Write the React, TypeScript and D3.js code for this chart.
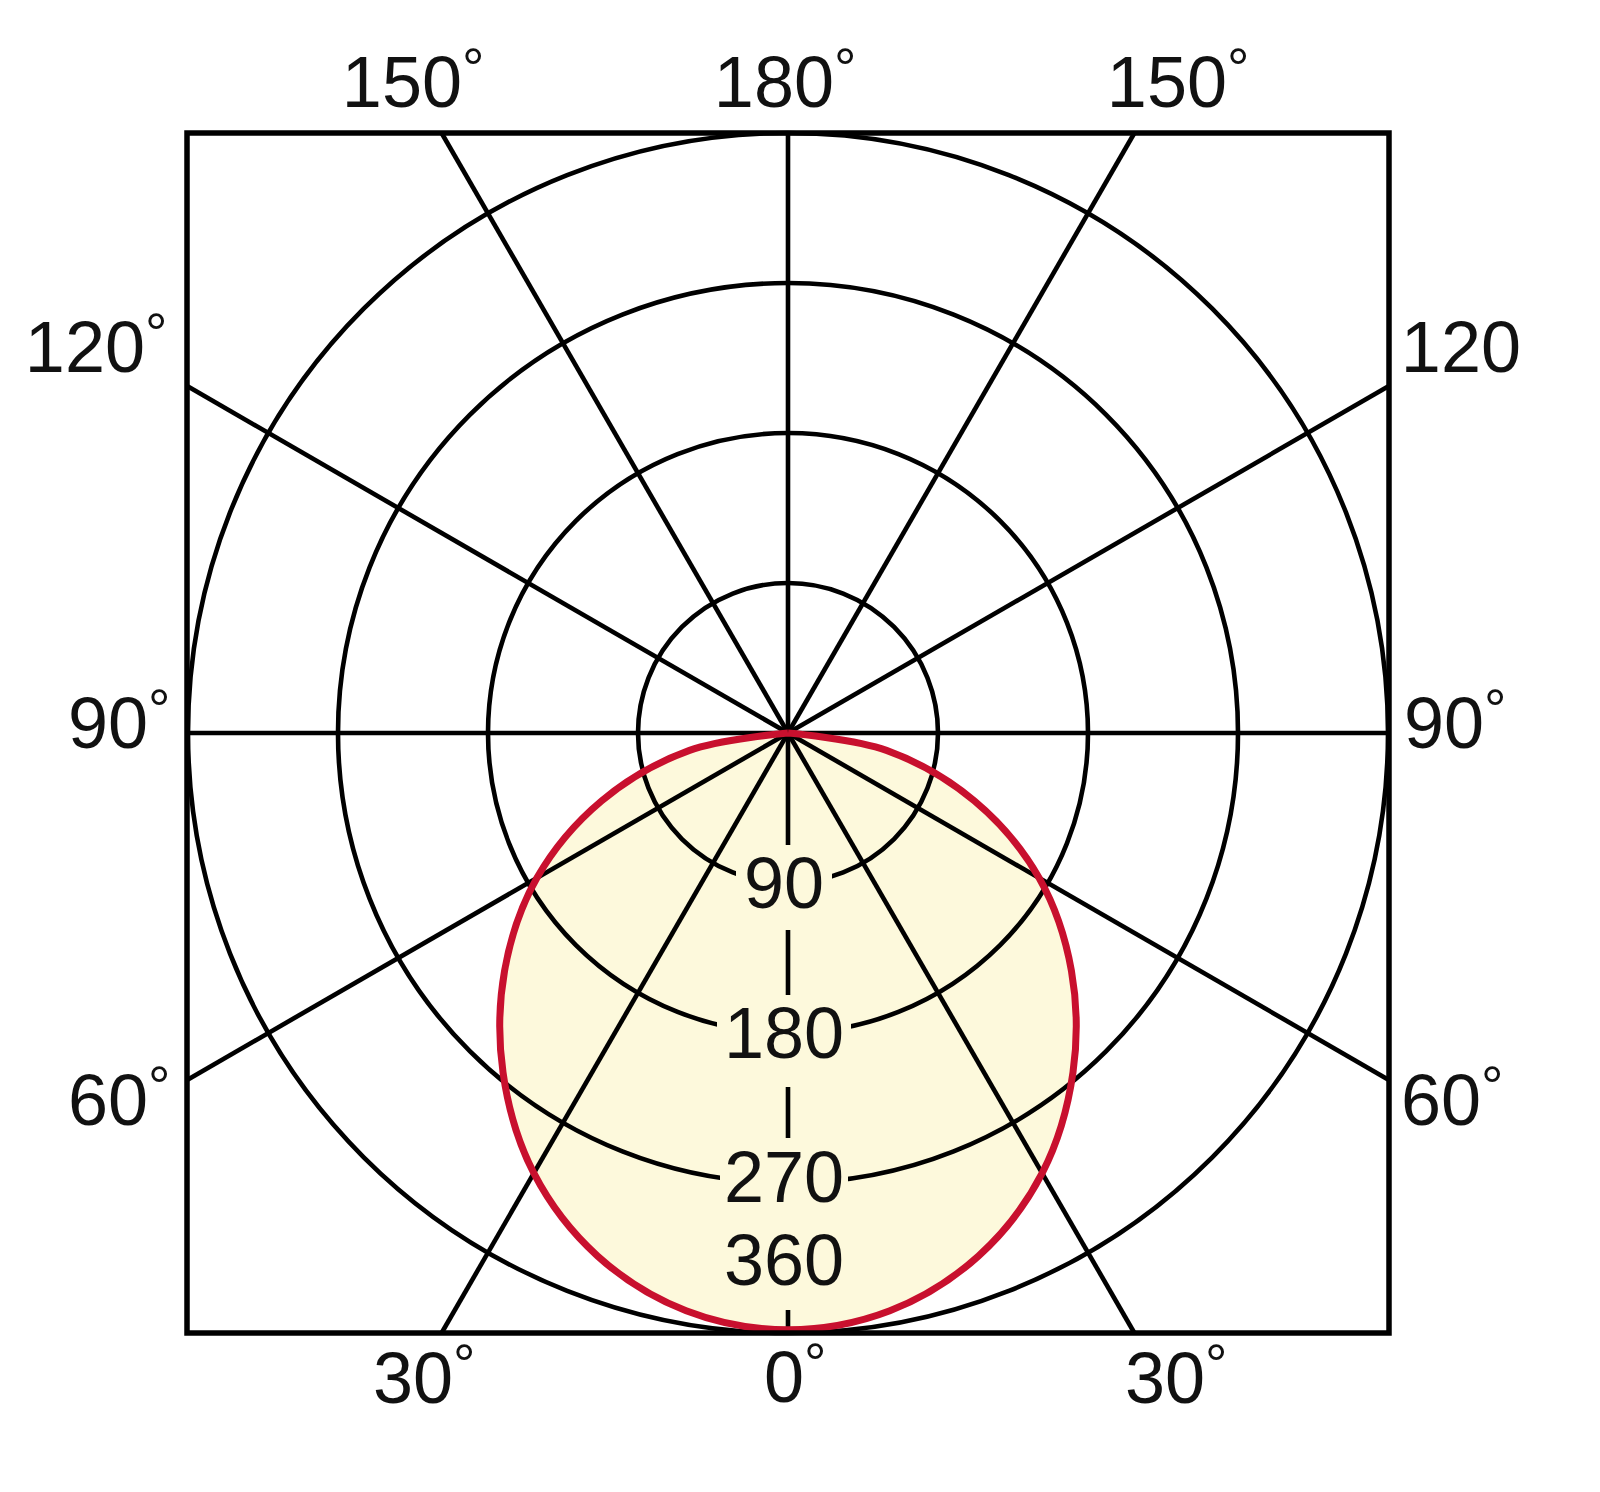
import React from "react";
import * as d3 from "d3";

// Luminous intensity (cd) by angle from the downward axis (symmetric)
const intensityAngles = [0, 10, 20, 30, 40, 50, 60, 70, 80, 90];
const intensityValues = [358, 352, 334, 305, 266, 222, 174, 119, 60, 0];

// Radial rings (cd)
const ringValues = [90, 180, 270, 360];
// Spoke angles (deg from downward axis)
const spokeAngles = [0, 30, 60, 90, 120, 150, 180];

// Angle tick labels
const angleLabelText = ["150", "180", "150", "120", "120", "90", "90", "60", "60", "30", "0", "30"];
const angleLabelDegree = [true, true, true, true, false, true, true, true, true, true, true, true];

// layout for the angle labels: right edge of digits and baseline
const angleLabelLayout = [
  { x: 462, y: 107 },
  { x: 834, y: 107 },
  { x: 1227, y: 107 },
  { x: 145, y: 372 },
  { x: 1521, y: 372 },
  { x: 148, y: 748 },
  { x: 1484, y: 748 },
  { x: 148, y: 1125 },
  { x: 1481, y: 1125 },
  { x: 453, y: 1403 },
  { x: 804, y: 1402 },
  { x: 1205, y: 1403 },
];

const W = 1600;
const H = 1492;
const cx = 788;
const cy = 733;
const R = 600;
const FONT = "'Liberation Sans', Arial, sans-serif";

export default function App() {
  const r = d3.scaleLinear().domain([0, 360]).range([0, R]);

  const pts: { a: number; v: number }[] = [];
  for (let i = intensityAngles.length - 1; i >= 0; i--) pts.push({ a: -intensityAngles[i], v: intensityValues[i] });
  for (let i = 1; i < intensityAngles.length; i++) pts.push({ a: intensityAngles[i], v: intensityValues[i] });

  const radial = d3
    .lineRadial<{ a: number; v: number }>()
    .angle((d) => Math.PI - (d.a * Math.PI) / 180)
    .radius((d) => r(d.v))
    .curve(d3.curveCatmullRom.alpha(0.5));
  const curvePath = radial(pts) as string;

  const half = r(360);
  const spokes: { x2: number; y2: number }[] = [];
  spokeAngles.forEach((deg) => {
    const sides = deg === 0 || deg === 180 ? [1] : [1, -1];
    sides.forEach((s) => {
      const t = (deg * Math.PI) / 180;
      const dx = s * Math.sin(t);
      const dy = Math.cos(t);
      const k = half / Math.max(Math.abs(dx), Math.abs(dy));
      spokes.push({ x2: cx + dx * k, y2: cy + dy * k });
    });
  });

  const cream = "#fdf9dc";
  const labelCx = 784;
  const gapHalf = [48, 67, 64];
  const gridW = 4.6;

  return (
    <svg
      width={W}
      height={H}
      style={{ position: "absolute", left: 0, top: 0, background: "#fff" }}
      fontFamily={FONT}
    >
      <rect x={0} y={0} width={W} height={H} fill="#fff" />
      <g transform={`translate(${cx},${cy})`}>
        <path d={curvePath} fill={cream} stroke="none" />
      </g>
      {/* rings */}
      {ringValues.map((v) => (
        <circle key={v} cx={cx} cy={cy} r={r(v)} fill="none" stroke="#000" strokeWidth={gridW} />
      ))}
      {/* spokes */}
      {spokes.map((s, i) => (
        <line key={i} x1={cx} y1={cy} x2={s.x2} y2={s.y2} stroke="#000" strokeWidth={gridW} />
      ))}
      {/* knockouts behind ring labels */}
      {ringValues.slice(0, 3).map((v, i) => {
        const ry = cy + r(v);
        const top = ry - (i === 2 ? 45 : 38);
        const bottom = i === 2 ? cy + r(360) - 23 : ry + (i === 0 ? 47 : 54);
        return (
          <rect
            key={v}
            x={labelCx - gapHalf[i]}
            y={top}
            width={gapHalf[i] * 2}
            height={bottom - top}
            fill={cream}
          />
        );
      })}
      <g transform={`translate(${cx},${cy})`}>
        <path d={curvePath} fill="none" stroke="#c8102e" strokeWidth={7} strokeLinejoin="round" />
      </g>
      {/* frame */}
      <rect x={cx - half - 1} y={cy - half} width={half * 2 + 2} height={half * 2} fill="none" stroke="#000" strokeWidth={5.5} />
      {/* ring labels */}
      {ringValues.map((v, i) => {
        const ry = cy + r(v);
        const baseline = i === 3 ? ry - 48 : ry + 25 - (i === 2 ? 6 : 0);
        return (
          <text key={v} x={labelCx} y={baseline} textAnchor="middle" fontSize={72} fill="#111">
            {v}
          </text>
        );
      })}
      {/* angle labels */}
      {angleLabelText.map((t, i) => {
        const L = angleLabelLayout[i];
        return (
          <g key={i}>
            <text x={L.x} y={L.y} textAnchor="end" fontSize={72} fill="#111">
              {t}
            </text>
            {angleLabelDegree[i] && (
              <text x={L.x} y={L.y - 51 - 9 + 40} textAnchor="start" fontSize={56} fill="#111">
                °
              </text>
            )}
          </g>
        );
      })}
    </svg>
  );
}
